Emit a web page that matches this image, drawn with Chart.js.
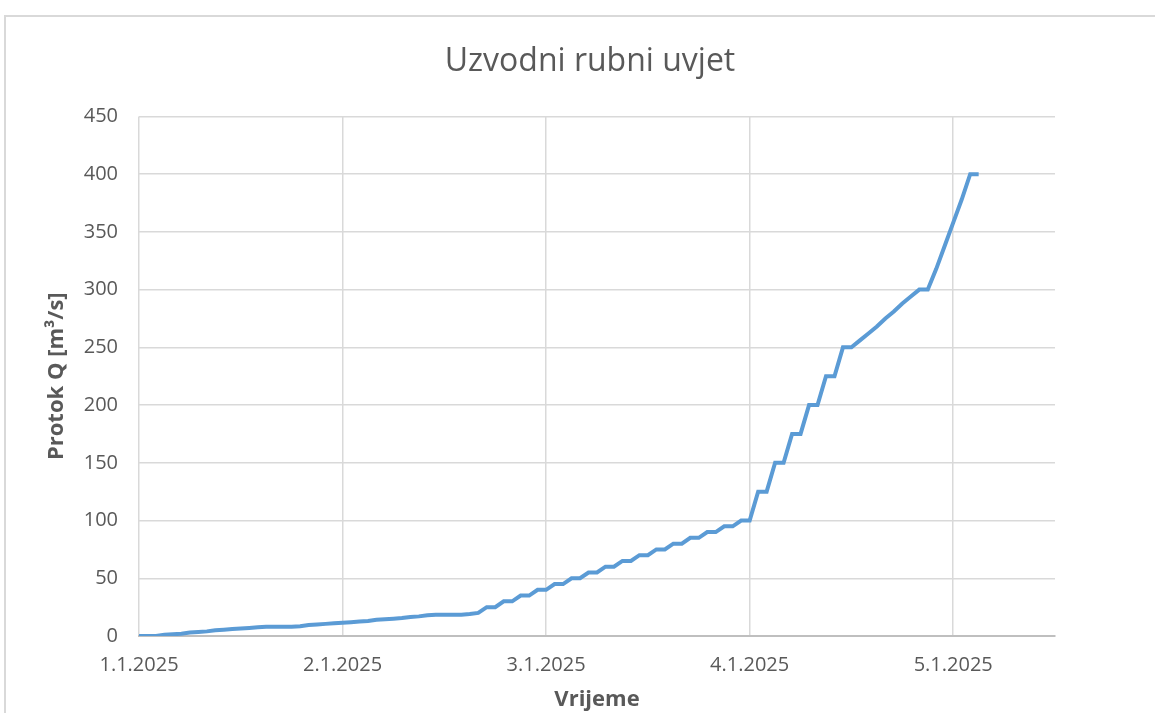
<!DOCTYPE html>
<html>
<head>
<meta charset="utf-8">
<script src="https://cdn.jsdelivr.net/npm/chart.js@4.4.1/dist/chart.umd.min.js"></script>
<style>
  html, body { margin: 0; padding: 0; background: #fff; }
  #frame {
    position: absolute; left: 4px; top: 15px; width: 1200px; height: 800px;
    border-left: 2px solid #d9d9d9; border-top: 2px solid #d9d9d9;
  }
  #chart { position: absolute; left: 0; top: 0; }
</style>
</head>
<body>
<div id="frame"></div>
<canvas id="chart" width="1155" height="713"></canvas>
<script>
// Sati od 1.1.2025 00:00
const hours = [];
for (let h = 0; h <= 99; h++) hours.push(h);

// Protok Q [m3/s], ocitano s grafa (svaki sat)
const protok = [
  0, 0, 0, 1, 1.5, 2, 3, 3.5, 4, 5,
  5.5, 6, 6.5, 7, 7.5, 8, 8, 8, 8, 8.5,
  9.5, 10, 10.5, 11, 11.5, 12, 12.5, 13, 14, 14.5,
  15, 15.5, 16.5, 17, 18, 18.5, 18.5, 18.5, 18.5, 19,
  20, 25, 25, 30, 30, 35, 35, 40, 40, 45,
  45, 50, 50, 55, 55, 60, 60, 65, 65, 70,
  70, 75, 75, 80, 80, 85, 85, 90, 90, 95,
  95, 100, 100, 125, 125, 150, 150, 175, 175, 200,
  200, 225, 225, 250, 250, 256, 262, 268, 275, 281,
  288, 294, 300, 300, 318, 338, 358, 378, 400, 400
];

const dayTicks = [0, 24, 48, 72, 96];
const yTicks = [0, 50, 100, 150, 200, 250, 300, 350, 400, 450];

const grey = '#595959';
const points = hours.map((h, i) => ({ x: h, y: protok[i] }));

new Chart(document.getElementById('chart'), {
  type: 'line',
  data: {
    datasets: [{
      label: 'Q',
      data: points,
      borderColor: '#5b9bd5',
      borderWidth: 4,
      pointRadius: 0,
      fill: false,
      tension: 0
    }]
  },
  options: {
    responsive: false,
    animation: false,
    layout: { padding: { left: 25, top: 0, right: 0, bottom: 0 } },
    plugins: {
      legend: { display: false },
      tooltip: { enabled: false },
      title: {
        display: true,
        text: 'Uzvodni rubni uvjet',
        color: grey,
        font: { family: 'Open Sans', size: 32, weight: 'normal' },
        padding: { top: 43, bottom: 35 }
      }
    },
    scales: {
      x: {
        type: 'linear',
        min: 0,
        max: 108,
        afterBuildTicks: s => { s.ticks = dayTicks.map(v => ({ value: v })); },
        afterFit: s => { s.height = 77; },
        ticks: {
          color: grey,
          font: { family: 'Open Sans', size: 20 },
          padding: 17,
          maxRotation: 0,
          callback: v => (v / 24 + 1) + '.1.2025'
        },
        grid: { color: '#d9d9d9', lineWidth: 1.5, drawTicks: false },
        border: { color: '#bfbfbf', width: 2 },
        title: {
          display: true,
          text: 'Vrijeme',
          color: grey,
          font: { family: 'Open Sans', size: 22, weight: 'bold' },
          padding: { top: 0, bottom: 0 }
        }
      },
      y: {
        min: 0,
        max: 450,
        afterBuildTicks: s => { s.ticks = yTicks.map(v => ({ value: v })); },
        afterFit: s => { s.width = 114; },
        ticks: {
          color: grey,
          font: { family: 'Open Sans', size: 20 },
          padding: 21
        },
        grid: { color: '#d9d9d9', lineWidth: 1.5, drawTicks: false },
        border: { display: false },
        title: {
          display: true,
          text: 'Protok Q [m³/s]',
          color: grey,
          font: { family: 'Open Sans', size: 22, weight: 'bold' },
          padding: { top: 19, bottom: 0 }
        }
      },
      // prazan desni rub (bez oznaka), samo zauzima prostor desno od grafa
      yRight: {
        position: 'right',
        min: 0,
        max: 450,
        afterFit: s => { s.width = 100; },
        ticks: { display: false },
        grid: { display: false, drawOnChartArea: false },
        border: { display: false }
      }
    }
  }
});
</script>
</body>
</html>
